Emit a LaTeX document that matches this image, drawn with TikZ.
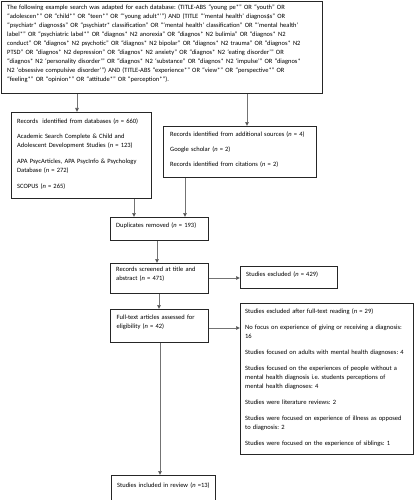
\documentclass[tikz,border=0pt]{standalone}
\usepackage{fontspec}
\setmainfont{Carlito}
\usetikzlibrary{arrows.meta}
\tikzset{
  box/.style={draw=black!85, line width=0.8pt, inner sep=0pt, anchor=north west},
  txt/.style={inner sep=0pt, anchor=base west, align=left, font=\fontsize{6.5}{9}\selectfont\frenchspacing},
  arr/.style={draw=black!55, line width=0.7pt, -{Triangle[length=4pt,width=3.6pt,fill=black]}},
}
\begin{document}
\begin{tikzpicture}[x=1pt,y=-1pt]
\useasboundingbox (0,0) rectangle (415,500);
% boxes
\node[box, minimum width=321, minimum height=92] (top) at (1,1) {};
\node[box, minimum width=140, minimum height=86] (db) at (11,112) {};
\node[box, minimum width=153, minimum height=51] (add) at (163,126) {};
\node[box, minimum width=98, minimum height=23] (dup) at (110,217) {};
\node[box, minimum width=98, minimum height=30] (scr) at (110,263) {};
\node[box, minimum width=97, minimum height=22] (exc) at (240,266) {};
\node[box, minimum width=98, minimum height=33] (ft) at (110,309) {};
\node[box, minimum width=173, minimum height=151] (exc2) at (240,303) {};
\node[box, minimum width=104, minimum height=25] (inc) at (111,475) {};
% texts
\node[txt, text width=320] (topT) at (7,9.8) {The following example search was adapted for each database: (TITLE-ABS “young pe*” OR “youth” OR\\
“adolescen*” OR “child*” OR “teen*” OR “‘young adult*’”) AND (TITLE “‘mental health’ diagnos\$s” OR\\
“psychiatr* diagnos\$s” OR “psychiatr* classification” OR “‘mental health’ classification” OR “‘mental health’\\
label*” OR “psychiatric label*” OR “diagnos* N2 anorexia” OR “diagnos* N2 bulimia” OR “diagnos* N2\\
conduct” OR “diagnos* N2 psychotic” OR “diagnos* N2 bipolar” OR “diagnos* N2 trauma” OR “diagnos* N2\\
PTSD” OR “diagnos* N2 depression” OR “diagnos* N2 anxiety” OR “diagnos* N2 ‘eating disorder’” OR\\
“diagnos* N2 ‘personality disorder’” OR “diagnos* N2 ‘substance” OR “diagnos* N2 ‘impulse’” OR “diagnos*\\
N2 ‘obsessive compulsive disorder’”) AND (TITLE-ABS “experience*” OR “view*” OR “perspective*” OR\\
“feeling*” OR “opinion*” OR “attitude*” OR “perception*”).};
\node[txt, text width=140] (dbT) at (17,123.2) {Records~ identified from databases (\textit{n} = 660)\\[6.7pt]
Academic Search Complete \& Child and\\
Adolescent Development Studies (\textit{n} = 123)\\[6.7pt]
APA PsycArticles, APA PsycInfo \& Psychology\\
Database (\textit{n} = 272)\\[6.7pt]
SCOPUS (\textit{n} = 265)};
\node[txt, text width=150] (addT) at (170,136.5) {Records identified from additional sources (\textit{n} = 4)\\[6.2pt]
Google scholar (\textit{n} = 2)\\[6.2pt]
Records identified from citations (\textit{n} = 2)};
\node[txt, text width=95] (dupT) at (116,227.5) {Duplicates removed (\textit{n} = 193)};
\node[txt, text width=95] (scrT) at (116,271.5) {Records screened at title and\\abstract (\textit{n} = 471)};
\node[txt, text width=95] (excT) at (246,276.5) {Studies excluded (\textit{n} = 429)};
\node[txt, text width=95] (ftT) at (116.5,319.8) {Full-text articles assessed for\\eligibility (\textit{n} = 42)};
\node[txt, text width=170] (exc2T) at (245,313.5) {Studies excluded after full-text reading (\textit{n} = 29)\\[7pt]
No focus on experience of giving or receiving a diagnosis:\\
16\\[7pt]
Studies focused on adults with mental health diagnoses: 4\\[7pt]
Studies focused on the experiences of people without a\\
mental health diagnosis i.e. students perceptions of\\
mental health diagnoses: 4\\[7pt]
Studies were literature reviews: 2\\[7pt]
Studies were focused on experience of illness as opposed\\
to diagnosis: 2\\[7pt]
Studies were focused on the experience of siblings: 1};
\node[txt, text width=100] (incT) at (117,487.5) {Studies included in review (\textit{n} =13)};
% connectors
\draw[arr] ([xshift=76]top.south west) -- ([xshift=66]db.north west);
\draw[arr] ([xshift=246]top.south west) -- ([xshift=84]add.north west);
\draw[arr] ([xshift=123]db.south west) -- ([xshift=24]dup.north west);
\draw[arr] ([xshift=22]add.south west) -- ([xshift=75]dup.north west);
\draw[arr] ([xshift=47]dup.south west) -- ([xshift=47]scr.north west);
\draw[arr] ([yshift=-15]scr.north east) -- ([yshift=-12]exc.north west);
\draw[arr] ([xshift=49]scr.south west) -- ([xshift=49]ft.north west);
\draw[arr] ([yshift=-19]ft.north east) -- ([yshift=-25]exc2.north west);
\draw[arr] ([xshift=50]ft.south west) -- ([xshift=49]inc.north west);
\end{tikzpicture}
\end{document}
